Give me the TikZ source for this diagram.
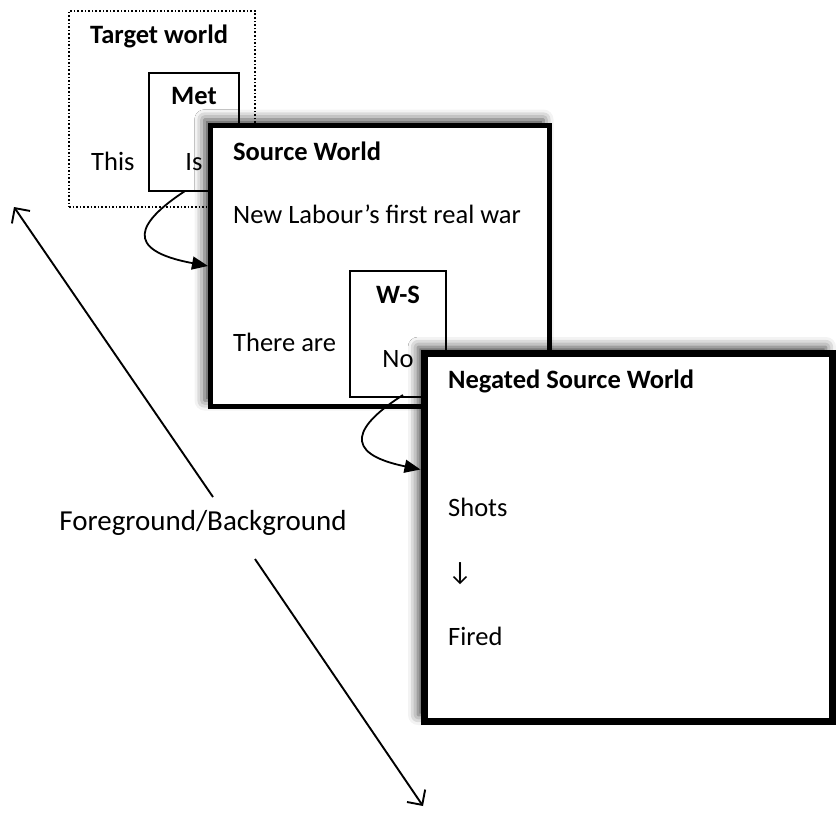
\documentclass[tikz,border=0pt]{standalone}
\usepackage{fontspec}
\setmainfont{Carlito}
\usetikzlibrary{arrows.meta,shadows.blur,calc}
\begin{document}
\begin{tikzpicture}[x=1pt,y=-1pt,
  txt/.style={font=\fontsize{26.5}{32}\selectfont, inner sep=0pt, anchor=mid west},
  btxt/.style={font=\fontsize{26.5}{32}\selectfont\bfseries, inner sep=0pt, anchor=mid west},
  dotbox/.style={draw, line width=1.6pt, dotted, inner sep=0pt},
  thinbox/.style={draw, line width=1.5pt, fill=white, inner sep=0pt},
  world/.style={draw, fill=white, inner sep=0pt,
    blur shadow={shadow xshift=-6pt, shadow yshift=6pt, shadow blur radius=10pt, shadow opacity=75}},
  curve/.style={line width=1.8pt, -{Triangle[length=16pt,width=13pt]}},
  diag/.style={line width=1.9pt},
  barb/.tip={Straight Barb[length=11pt,width=22pt,line width=1.9pt]}
]
\useasboundingbox (0,0) rectangle (836,812);

% target world
\node[dotbox, minimum width=186pt, minimum height=196pt] (target) at (162,109) {};
\node[btxt] (tw) at (90,41) {Target world};
\node[thinbox, minimum width=90pt, minimum height=118pt] (met) at (194,132) {};
\node[btxt, anchor=mid] (metl) at (194,102) {Met};
\node[txt] (this) at (91,168) {This};
\node[txt, anchor=mid] (is) at (194,168) {Is};

% source world
\node[world, line width=5pt, minimum width=339pt, minimum height=281pt] (source) at (380,266) {};
\node[btxt] (sw) at (233,158) {Source World};
\node[txt] (nl) at (233,221) {New Labour’s first real war};
\node[txt] (there) at (233,349) {There are};
\node[thinbox, minimum width=96pt, minimum height=126pt] (ws) at (398,334) {};
\node[btxt, anchor=mid] (wsl) at (398,301) {W-S};
\node[txt, anchor=mid] (no) at (398,365) {No};

\coordinate (a1s) at (185,191);
\draw[curve] (a1s) .. controls (138,222) and (122,250) .. (source.west);

% negated source world
\node[world, line width=7pt, minimum width=408pt, minimum height=368pt] (neg) at (628,537) {};
\node[btxt] (nsw) at (448,386) {Negated Source World};
\node[txt] (shots) at (448,514) {Shots};
\node[txt] (down) at (448,578) {↓};
\node[txt] (fired) at (448,643) {Fired};

\coordinate (a2s) at (403,395);
\coordinate (a2e) at ($(neg.north west)!0.32!(neg.south west)$);
\draw[curve] (a2s) .. controls (356,425) and (340,453) .. (a2e);

% foreground / background
\node[txt, anchor=mid, font=\fontsize{29}{34}\selectfont] (fb) at (203,528) {Foreground/Background};
\coordinate (tl) at (14,207);
\coordinate (ue) at (213,497);
\coordinate (ls) at (255,559);
\coordinate (br) at (423,806);
\draw[diag, barb-] (tl) -- (ue);
\draw[diag, -barb] (ls) -- (br);
\end{tikzpicture}
\end{document}
